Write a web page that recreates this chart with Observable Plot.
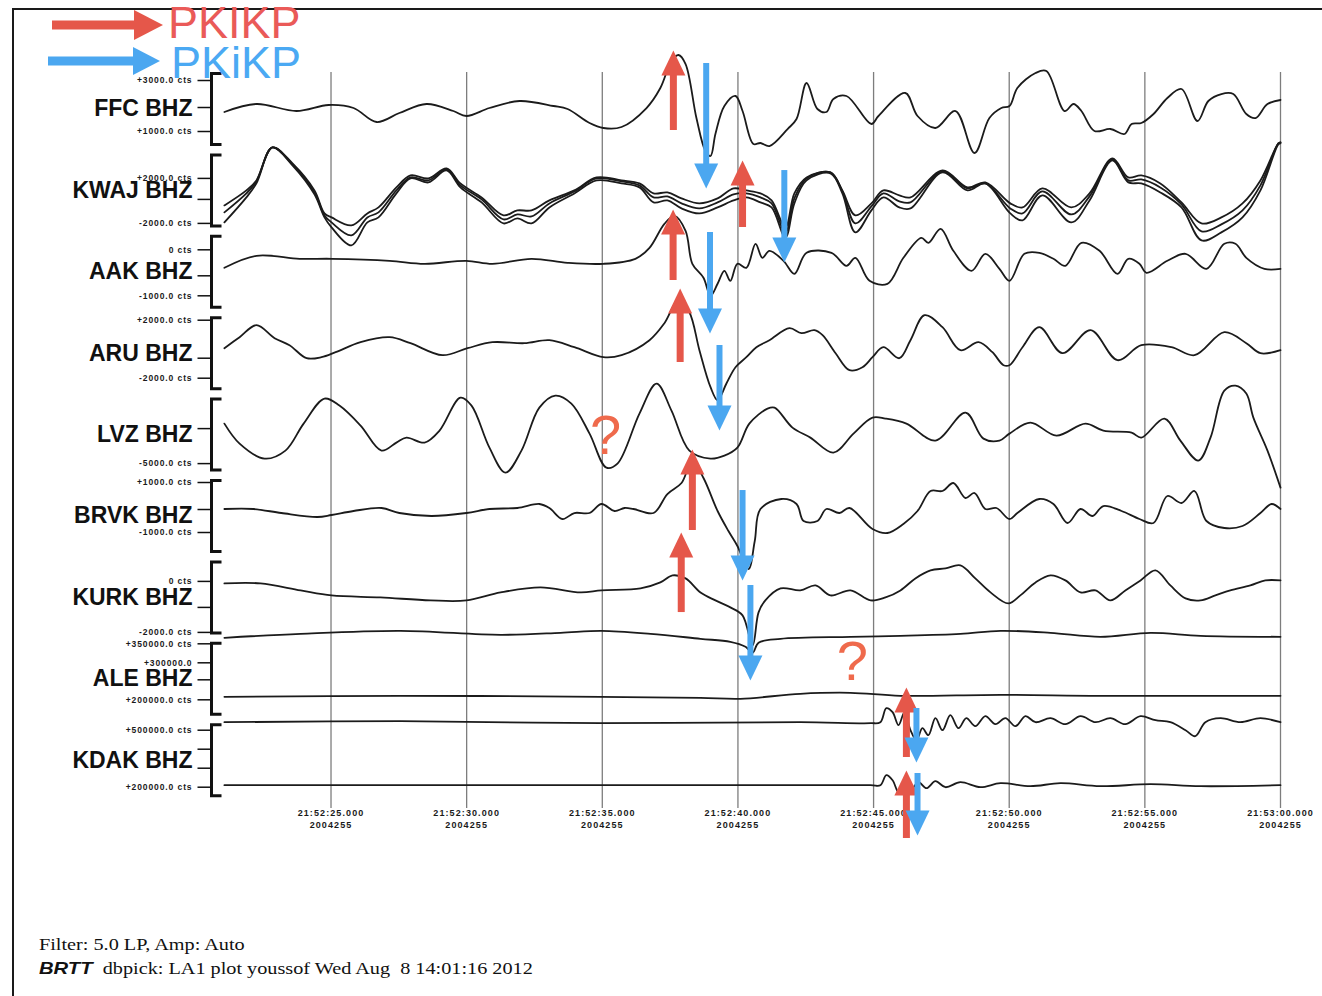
<!DOCTYPE html>
<html><head><meta charset="utf-8">
<script src="https://cdn.jsdelivr.net/npm/d3@7"></script>
<script src="https://cdn.jsdelivr.net/npm/@observablehq/plot@0.6"></script>
<style>
html,body{margin:0;padding:0;background:#fff;width:1322px;height:996px;overflow:hidden;position:relative;font-family:"Liberation Sans",Arial,sans-serif;}
#frame{position:absolute;left:12px;top:8px;width:1400px;height:1100px;border-left:2px solid #1a1a1a;border-top:2px solid #1a1a1a;box-sizing:border-box;}
#chart{position:absolute;left:0;top:0;}
#chart svg{overflow:visible;}
#legend{position:absolute;left:0;top:0;}
#footer{position:absolute;left:39px;top:933px;font-family:"Liberation Serif","Times New Roman",serif;font-size:17px;color:#111;transform:scaleX(1.19);transform-origin:0 0;white-space:pre;line-height:24px;}
#footer .brtt{font-family:"Liberation Sans",Arial,sans-serif;font-weight:bold;font-style:italic;}
text[aria-label="ylab"]{letter-spacing:0.9px;}
text[aria-label="xlab"]{letter-spacing:1.1px;}
</style>
</head><body>
<div id="frame"></div>
<div id="chart"></div>
<svg id="legend" width="330" height="90" xmlns="http://www.w3.org/2000/svg">
  <rect x="52" y="20.5" width="86" height="9" fill="#e5574a"/>
  <polygon points="134,10 163,25 134,40" fill="#e5574a"/>
  <text x="168" y="38" font-size="45" font-family="Liberation Sans, Arial, sans-serif" fill="#ea5a58">PKIKP</text>
  <rect x="48" y="56.5" width="88" height="9" fill="#4ba7f0"/>
  <polygon points="133,47 160,61 133,75" fill="#4ba7f0"/>
  <text x="171" y="78" font-size="45" font-family="Liberation Sans, Arial, sans-serif" fill="#4ba9f3">PKiKP</text>
</svg>
<div id="footer"><div>Filter: 5.0 LP, Amp: Auto</div><div><span class="brtt">BRTT</span>  dbpick: LA1 plot youssof Wed Aug  8 14:01:16 2012</div></div>
<script>
// ---------- data ----------
const stations = ["FFC BHZ","KWAJ BHZ","AAK BHZ","ARU BHZ","LVZ BHZ","BRVK BHZ","KURK BHZ","ALE BHZ","KDAK BHZ"];

// time ticks (seconds after 21:52:00)
const gridTimes = [25,30,35,40,45,50,55,60];
const timeLabels = ["21:52:25.000","21:52:30.000","21:52:35.000","21:52:40.000","21:52:45.000","21:52:50.000","21:52:55.000","21:53:00.000"];
const dayLabel = "2004255";

// amplitude scale ticks per station (amp in trace units, 81.4 units per row)
const scaleTicks = [
  {row:0, amp:28.5, label:"+3000.0 cts"}, {row:0, amp:1.5, label:""}, {row:0, amp:-22.5, label:"+1000.0 cts"},
  {row:1, amp:12, label:"+2000.0 cts"}, {row:1, amp:-9, label:""}, {row:1, amp:-33, label:"-2000.0 cts"},
  {row:2, amp:22, label:"0 cts"}, {row:2, amp:-4, label:""}, {row:2, amp:-24, label:"-1000.0 cts"},
  {row:3, amp:33, label:"+2000.0 cts"}, {row:3, amp:-5, label:""}, {row:3, amp:-25, label:"-2000.0 cts"},
  {row:4, amp:6, label:""}, {row:4, amp:-29, label:"-5000.0 cts"},
  {row:5, amp:33.5, label:"+1000.0 cts"}, {row:5, amp:6.5, label:""}, {row:5, amp:-16.5, label:"-1000.0 cts"},
  {row:6, amp:16, label:"0 cts"}, {row:6, amp:-10, label:""}, {row:6, amp:-35, label:"-2000.0 cts"},
  {row:7, amp:35, label:"+350000.0 cts"}, {row:7, amp:16, label:"+300000.0"}, {row:7, amp:-1, label:""}, {row:7, amp:-21, label:"+200000.0 cts"},
  {row:8, amp:30, label:"+500000.0 cts"}, {row:8, amp:11, label:""}, {row:8, amp:-8, label:""}, {row:8, amp:-27, label:"+200000.0 cts"}
];

// traces: [time, amplitude, time, amplitude, ...]
const ffc = [21.07,-3, 22.25,5, 23.73,-2, 24.91,4, 25.83,1, 26.68,-13, 27.52,-4, 28.52,5, 29.51,-2, 29.99,-7, 30.84,1, 31.95,8, 33.20,3, 33.72,0, 34.53,-14, 35.04,-19, 35.71,-18, 36.63,1, 37.14,21, 37.55,48, 37.81,54, 38.07,45, 38.47,-9, 38.80,-42, 38.99,-47, 39.17,-25, 39.50,3, 39.91,13, 40.17,-2, 40.57,-35, 40.83,-34, 41.16,-37, 41.83,-20, 42.16,-10, 42.53,26, 42.93,0, 43.26,-3, 43.52,10, 44.00,13, 44.92,-15, 45.18,-7, 46.17,16, 46.62,-7, 47.28,-19, 48.02,-2, 48.72,-44, 49.27,-9, 49.71,1, 50.01,3, 50.30,21, 50.97,36, 51.37,38, 52.04,-2, 52.37,5, 52.66,-2, 53.14,-22, 53.73,-20, 54.25,-25, 54.51,-15, 54.87,-14, 55.32,-5, 55.83,11, 56.35,20, 56.94,-12, 57.34,8, 57.82,15, 58.26,15, 58.74,-5, 59.08,-9, 59.52,5, 60,9];

const kwajTime = [21.07,21.88,22.25,22.84,23.58,24.39,24.76,25.02,25.75,26.34,26.75,27.41,27.93,28.59,29.26,29.77,30.55,31.36,31.87,32.39,33.05,33.97,34.79,35.71,36.37,36.89,37.40,37.92,38.58,39.25,39.84,40.31,40.83,41.24,41.75,42.08,42.53,43.41,43.85,44.33,44.92,45.36,45.95,46.36,47.54,48.46,49.12,50.04,50.49,51.22,52.29,52.96,53.80,54.39,54.87,55.57,56.35,57.09,57.82,58.60,59.26,59.92,60];
const kwajTop = [-15,0,10,43,27,0,-23,-27,-35,-23,-17,3,15,12,22,7,-7,-25,-20,-20,-10,0,13,10,7,-3,-2,-8,-13,-8,2,0,-3,-10,-37,-3,13,18,0,-25,-13,0,-5,-7,20,3,8,-13,-17,2,-17,-3,32,13,15,7,-12,-33,-27,-13,10,47,48];
const kwajMid = [-22,-3,9,43,26,-2,-25,-32,-45,-27,-22,0,13,10,21,5,-9,-29,-24,-26,-13,-1,12,9,5,-7,-6,-13,-18,-12,-4,-3,-7,-13,-42,-8,12,18,-1,-33,-16,-3,-11,-12,19,2,7,-18,-23,-1,-24,-6,31,10,11,3,-14,-41,-34,-20,5,47,48];
const kwajLow = [-32,-7,7,43,25,-4,-27,-37,-55,-32,-27,-3,12,8,20,3,-12,-33,-28,-33,-17,-3,10,7,3,-12,-10,-18,-23,-17,-10,-7,-12,-17,-47,-13,10,17,-3,-42,-20,-7,-17,-18,18,0,7,-23,-30,-5,-32,-10,30,8,7,-2,-17,-50,-42,-27,0,46,47];

const aak = [21.07,4, 22.25,16, 23.84,13, 25.02,13, 27.16,11, 28.45,8, 29.99,11, 30.95,8, 32.39,13, 33.72,9, 35.04,8, 36.22,13, 36.74,24, 37.29,48, 37.66,56, 38.07,41, 38.32,8, 38.73,-6, 38.99,-24, 39.25,-12, 39.50,1, 39.72,-9, 39.98,8, 40.31,4, 40.65,28, 40.90,14, 41.16,21, 41.68,11, 42.08,-2, 42.53,19, 43.45,19, 44.00,6, 44.33,14, 44.85,-9, 45.51,-12, 46.10,14, 46.76,34, 47.02,29, 47.47,43, 47.94,21, 48.61,1, 49.12,18, 49.64,3, 50.01,-9, 50.56,18, 51.11,19, 51.63,13, 52.07,6, 52.66,29, 53.33,21, 53.99,-2, 54.39,13, 54.80,8, 55.06,-1, 55.83,11, 56.50,18, 57.27,3, 57.93,28, 58.34,28, 58.74,14, 59.41,3, 60,3];

const aru = [21.07,5, 21.63,16, 22.25,28, 22.92,15, 23.47,8, 24.10,-5, 24.65,-4, 25.17,1, 26.09,11, 27.16,16, 27.93,10, 29.11,-2, 30.03,5, 30.95,11, 32.13,10, 33.05,13, 33.97,6, 35.04,-4, 35.71,-2, 36.74,13, 37.29,30, 37.81,53, 38.21,41, 38.58,3, 38.99,-34, 39.25,-47, 39.58,-30, 39.91,-14, 40.31,-4, 40.68,6, 41.16,13, 41.90,25, 42.34,20, 42.82,23, 43.12,18, 43.60,0, 44.11,-17, 44.59,-14, 44.96,-4, 45.36,6, 45.95,-5, 46.36,13, 46.88,38, 47.54,26, 48.20,3, 48.87,11, 49.38,1, 49.79,-12, 50.01,-12, 50.49,6, 51.11,26, 51.96,0, 53.00,23, 53.99,-7, 54.87,8, 55.98,6, 56.83,-2, 57.93,21, 58.74,10, 59.26,0, 60,3];

const lvz = [21.07,11, 21.63,-9, 22.55,-24, 23.32,-16, 23.99,11, 24.76,36, 25.31,29, 26.09,9, 26.86,-16, 27.41,-8, 27.78,-3, 28.45,-8, 29.00,4, 29.77,37, 30.18,29, 30.84,-13, 31.43,-38, 32.02,-16, 32.68,27, 33.27,39, 33.86,31, 34.53,1, 35.15,-33, 35.56,-29, 36.37,21, 37.00,51, 37.55,24, 38.21,-16, 38.99,-24, 39.50,-21, 39.98,-13, 40.42,11, 41.09,26, 41.35,27, 42.01,7, 42.67,-3, 43.52,-18, 44.26,1, 44.96,17, 45.44,16, 46.21,11, 47.28,-6, 48.39,22, 49.05,-4, 49.64,-6, 50.01,1, 50.78,12, 51.74,-1, 52.81,11, 53.47,4, 54.51,2, 54.87,-3, 55.72,16, 56.31,-6, 56.97,-26, 57.42,-3, 57.93,44, 58.34,49, 58.74,41, 59.00,17, 59.52,-16, 60,-53];

const brvk = [21.07,7, 22.14,7, 23.17,3, 24.50,-1, 25.02,1, 25.83,5, 26.86,8, 27.52,3, 28.70,0, 29.99,3, 30.84,7, 31.87,8, 32.68,12, 33.05,8, 33.53,-3, 33.97,3, 34.53,3, 34.97,12, 35.45,5, 35.82,8, 36.15,7, 36.89,3, 37.40,22, 37.92,33, 38.32,55, 38.73,38, 39.25,5, 39.65,-15, 39.98,-30, 40.39,-53, 40.62,-25, 40.83,7, 41.60,17, 42.16,12, 42.42,-5, 42.93,-5, 43.26,7, 43.74,3, 44.11,8, 44.96,-13, 45.51,-17, 46.10,-8, 46.62,5, 47.10,25, 47.54,25, 47.94,33, 48.39,18, 48.72,23, 49.12,7, 49.53,8, 50.01,-3, 50.30,3, 51.11,17, 51.63,12, 52.15,-7, 52.63,7, 53.07,0, 53.47,10, 54.14,5, 54.80,-3, 55.32,-7, 55.83,20, 56.35,13, 56.83,25, 57.27,-5, 57.93,-12, 58.60,-10, 59.26,3, 59.67,12, 60,7];

const kurk = [21.07,14, 22.40,14, 23.88,7, 25.02,2, 26.82,0, 28.67,-3, 29.99,-3, 31.25,5, 32.72,10, 34.20,5, 34.97,7, 36.41,9, 37.14,15, 37.59,22, 38.07,19, 38.62,5, 39.17,-3, 39.72,-10, 40.17,-18, 40.54,-48, 40.76,-15, 41.01,-3, 41.57,9, 42.30,7, 42.86,12, 43.41,2, 44.15,7, 44.89,-3, 45.44,0, 45.99,7, 46.54,19, 47.10,27, 47.65,29, 48.20,32, 48.75,19, 49.31,5, 49.97,-6, 50.41,2, 50.97,15, 51.52,22, 52.07,17, 52.63,5, 53.18,7, 53.73,-3, 54.28,7, 54.84,17, 55.39,27, 55.94,12, 56.50,-1, 57.05,-3, 57.60,2, 58.15,7, 58.89,12, 59.44,17, 60,17];

const aleHigh = [21.07,41, 23.88,45, 27.56,48, 31.25,44, 33.46,46, 34.97,48, 36.78,45, 38.62,40, 39.72,37, 40.28,32, 40.54,26, 40.76,36, 41.57,40, 44.15,42, 45.99,43, 48.20,45, 49.68,48, 51.52,46, 53.36,42, 55.21,46, 57.05,43, 60,42];
const aleLow = [21.07,-18, 27.56,-17, 34.93,-18, 38.62,-19, 40.09,-20, 42.30,-15, 44.15,-14, 45.99,-17, 49.68,-16, 53.36,-17, 60,-17];

const kdakHigh = [21.07,38, 27.56,39, 34.93,37, 42.30,38, 44.89,37, 45.25,38, 45.47,52, 45.70,48, 45.92,35, 46.14,48, 46.36,30, 46.58,20, 46.80,32, 47.02,25, 47.28,42, 47.54,30, 47.83,45, 48.13,32, 48.42,42, 48.75,34, 49.12,44, 49.49,36, 49.86,42, 50.23,34, 50.60,44, 50.97,38, 51.52,42, 52.07,36, 52.63,44, 53.18,38, 53.73,42, 54.28,36, 54.84,44, 55.39,40, 55.94,38, 56.50,30, 56.86,24, 57.23,38, 57.79,42, 58.52,38, 59.26,42, 60,38];
const kdakLow = [21.07,-25, 34.93,-25, 44.89,-25, 45.25,-25, 45.47,-15, 45.70,-20, 45.92,-32, 46.14,-20, 46.36,-30, 46.65,-22, 46.95,-28, 47.28,-21, 47.65,-27, 48.20,-22, 48.94,-27, 49.68,-23, 50.78,-26, 51.89,-23, 53.36,-26, 55.21,-24, 57.05,-26, 60,-25];

// phase picks: time (s), tail and tip in station-row units
const pkikpPicks = [
  {t:37.62, tail:0.264, tip:-0.719}, {t:40.17, tail:1.456, tip:0.633},
  {t:37.61, tail:2.107, tip:1.235}, {t:37.87, tail:3.114, tip:2.205},
  {t:38.32, tail:5.178, tip:4.183}, {t:37.91, tail:6.186, tip:5.203},
  {t:46.21, tail:7.967, tip:7.107}, {t:46.21, tail:8.962, tip:8.126}
];
const pkikpInnerPicks = [
  {t:38.83, tail:-0.559, tip:0.977}, {t:41.71, tail:0.756, tip:1.886},
  {t:38.97, tail:1.517, tip:2.758}, {t:39.32, tail:2.905, tip:3.950},
  {t:40.17, tail:4.687, tip:5.792}, {t:40.46, tail:5.854, tip:7.021},
  {t:46.58, tail:7.365, tip:8.028}, {t:46.62, tail:8.163, tip:8.925}
];
const doubtfulPicks = [{t:35.12, row:4.023}, {t:44.22, row:6.80}];

// ---------- build ----------
const ROW = 81.4; // amplitude units per station row
const RED = "#e5574a", BLUE = "#4ba7f0", ORANGE = "#ef6a4c";

const points = [];
const addFlat = (id, row, arr) => { for (let k = 0; k < arr.length; k += 2) points.push({id, row, t: arr[k], amp: arr[k + 1]}); };
addFlat("FFC", 0, ffc);
kwajTime.forEach((t, k) => {
  points.push({id: "KWAJ-a", row: 1, t, amp: kwajTop[k]});
  points.push({id: "KWAJ-b", row: 1, t, amp: kwajMid[k]});
  points.push({id: "KWAJ-c", row: 1, t, amp: kwajLow[k]});
});
addFlat("AAK", 2, aak);
addFlat("ARU", 3, aru);
addFlat("LVZ", 4, lvz);
addFlat("BRVK", 5, brvk);
addFlat("KURK", 6, kurk);
addFlat("ALE-a", 7, aleHigh);
addFlat("ALE-b", 7, aleLow);
addFlat("KDAK-a", 8, kdakHigh);
addFlat("KDAK-b", 8, kdakLow);

const yOf = d => d.row - d.amp / ROW;

const bracketSymbol = {draw(ctx) { ctx.moveTo(10, -35.5); ctx.lineTo(0, -35.5); ctx.lineTo(0, 35.5); ctx.lineTo(10, 35.5); }};
const tickSymbol = {draw(ctx) { ctx.moveTo(0, 0); ctx.lineTo(-14, 0); }};
const headUp = {draw(ctx) { ctx.moveTo(0, 0); ctx.lineTo(12, 25); ctx.lineTo(-12, 25); ctx.closePath(); }};
const headDown = {draw(ctx) { ctx.moveTo(0, 0); ctx.lineTo(12, -25); ctx.lineTo(-12, -25); ctx.closePath(); }};

const chart = Plot.plot({
  width: 1322, height: 860,
  marginLeft: 222, marginRight: 42, marginTop: 0, marginBottom: 60,
  x: {domain: [21, 60], axis: null},
  y: {domain: [-1.333, 8.495], range: [0, 800], axis: null},
  style: {background: "transparent", fontFamily: "'Liberation Sans', Arial, sans-serif", overflow: "visible"},
  marks: [
    Plot.ruleX(gridTimes, {x: d => d, y1: -0.45, y2: 8.495, insetBottom: -8, stroke: "#7d7d7d", strokeWidth: 1.3}),
    Plot.text(gridTimes, {x: d => d, frameAnchor: "bottom", text: (d, i) => timeLabels[i] + "\n" + dayLabel,
      lineAnchor: "top", dy: 7, fontSize: 9, fontWeight: "bold", lineHeight: 1.35, fill: "#1a1a1a", ariaLabel: () => "xlab"}),
    Plot.line(points, {x: "t", y: yOf, z: "id", curve: "catmull-rom", stroke: "#1b1b1b", strokeWidth: 1.8}),
    Plot.dot(stations, {frameAnchor: "left", y: (d, i) => i, symbol: bracketSymbol, stroke: "#111", strokeWidth: 3, fill: "none", dx: -11}),
    Plot.dot(scaleTicks, {frameAnchor: "left", y: yOf, symbol: tickSymbol, stroke: "#111", strokeWidth: 1.5, fill: "none", dx: -11}),
    Plot.text(scaleTicks.filter(d => d.label), {frameAnchor: "left", y: yOf, text: "label", dx: -30, textAnchor: "end",
      fontSize: 8.5, fontWeight: "bold", fill: "#1a1a1a", ariaLabel: () => "ylab"}),
    Plot.text(stations, {frameAnchor: "left", y: (d, i) => i, text: d => d, dx: -30, textAnchor: "end",
      fontSize: 23, fontWeight: "bold", fill: "#111"}),
    Plot.ruleX(pkikpPicks, {x: "t", y1: "tip", y2: "tail", stroke: RED, strokeWidth: 7, insetTop: 12}),
    Plot.dot(pkikpPicks, {x: "t", y: "tip", symbol: headUp, fill: RED, stroke: "none"}),
    Plot.ruleX(pkikpInnerPicks, {x: "t", y1: "tail", y2: "tip", stroke: BLUE, strokeWidth: 6, insetBottom: 12}),
    Plot.dot(pkikpInnerPicks, {x: "t", y: "tip", symbol: headDown, fill: BLUE, stroke: "none"}),
    Plot.text(doubtfulPicks, {x: "t", y: "row", text: () => "?", fontSize: 56, fill: ORANGE})
  ]
});
document.getElementById("chart").appendChild(chart);
</script>
</body></html>
